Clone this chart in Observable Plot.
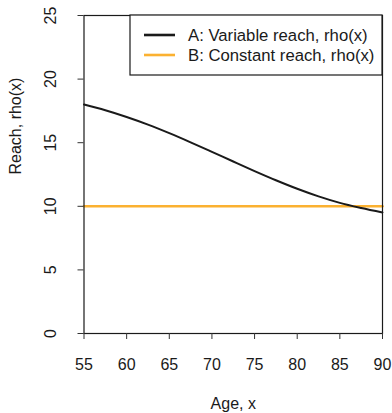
<!DOCTYPE html>
<html>
<head>
<meta charset="utf-8">
<script src="https://cdn.jsdelivr.net/npm/d3@7"></script>
<script src="https://cdn.jsdelivr.net/npm/@observablehq/plot@0.6"></script>
<style>
  html, body { margin: 0; padding: 0; background: #fff; }
  svg { display: block; }
</style>
</head>
<body>
<div id="chart"></div>
<script>
// Data
const ages = [55, 57.5, 60, 62.5, 65, 67.5, 70, 72.5, 75, 77.5, 80, 82.5, 85, 87.5, 90];
const reachA = [18.0, 17.55, 17.02, 16.42, 15.75, 15.03, 14.28, 13.52, 12.77, 12.05, 11.38, 10.78, 10.27, 9.87, 9.52];
const reachB = [10, 10, 10, 10, 10, 10, 10, 10, 10, 10, 10, 10, 10, 10, 10];
const xTicks = [55, 60, 65, 70, 75, 80, 85, 90];
const yTicks = [0, 5, 10, 15, 20, 25];
const seriesLabels = ["A: Variable reach, rho(x)", "B: Constant reach, rho(x)"];
const seriesColors = ["#1a1a1a", "#fbb131"];

const dataA = ages.map((x, i) => ({x, y: reachA[i]}));
const dataB = ages.map((x, i) => ({x, y: reachB[i]}));

const FONT = "'Liberation Sans', Arial, Helvetica, sans-serif";

const chart = Plot.plot({
  width: 392,
  height: 413,
  marginLeft: 83.5,
  marginRight: 10,
  marginTop: 15,
  marginBottom: 80,
  style: {fontFamily: FONT, fontSize: "16px", color: "#1a1a1a", background: "#fff"},
  x: {domain: [55, 90]},
  y: {domain: [0, 25]},
  marks: [
    Plot.line(dataB, {x: "x", y: "y", stroke: seriesColors[1], strokeWidth: 2.6}),
    Plot.line(dataA, {x: "x", y: "y", stroke: seriesColors[0], strokeWidth: 2, curve: "monotone-x"}),
    Plot.frame({stroke: "#1a1a1a", strokeWidth: 1.2}),
    Plot.axisX({ticks: xTicks, tickSize: 6, tickPadding: 19, stroke: "#333", label: null, fontSize: 16}),
    Plot.axisY({ticks: yTicks, tickSize: 6, tickPadding: 22, tickRotate: -90, stroke: "#333", label: null, fontSize: 16}),
    Plot.text(["Age, x"], {frameAnchor: "bottom", dy: 75, fontSize: 16, fill: "#1a1a1a"}),
    Plot.text(["Reach, rho(x)"], {frameAnchor: "left", dx: -68, rotate: -90, fontSize: 16, fill: "#1a1a1a"})
  ]
});

document.getElementById("chart").appendChild(chart);

// Legend (drawn in pixel space inside the SVG)
const svg = d3.select(chart);
const lg = svg.append("g").attr("font-family", FONT).attr("font-size", 16.7).attr("text-anchor", "start");
lg.append("rect").attr("x", 130).attr("y", 15).attr("width", 252).attr("height", 60)
  .attr("fill", "#fff").attr("stroke", "#1a1a1a").attr("stroke-width", 1.2);
seriesLabels.forEach((t, i) => {
  const y = 35 + i * 20;
  lg.append("line").attr("x1", 144).attr("x2", 175).attr("y1", y).attr("y2", y)
    .attr("stroke", seriesColors[i]).attr("stroke-width", 2.6);
  lg.append("text").attr("x", 188).attr("y", y).attr("dy", "0.35em")
    .attr("text-anchor", "start").attr("fill", "#1a1a1a").text(t);
});
</script>
</body>
</html>
